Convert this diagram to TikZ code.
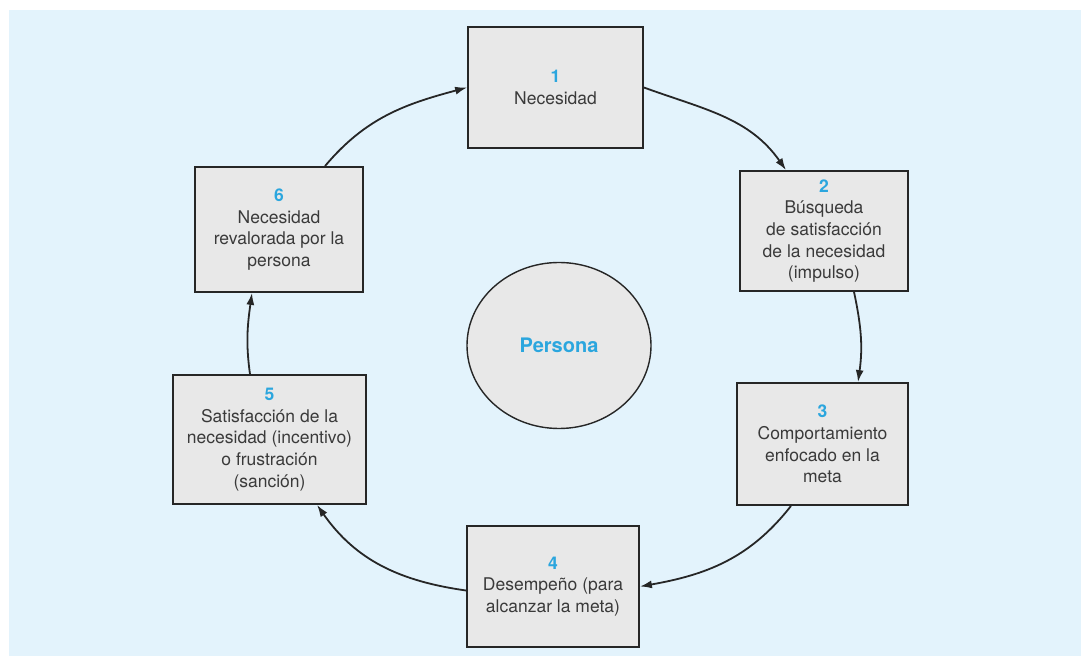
\documentclass[tikz,border=0pt]{standalone}
\usepackage{fontspec}
\setmainfont{TeX Gyre Heros}
\usetikzlibrary{arrows.meta,shapes.geometric}
\definecolor{fondoazul}{HTML}{E3F3FC}
\definecolor{cajagris}{HTML}{E8E8E8}
\definecolor{bordeosc}{HTML}{262626}
\definecolor{textogris}{HTML}{3A3A3A}
\definecolor{azulnum}{HTML}{2BA6DE}
\newcommand{\nro}[1]{{\color{azulnum}\bfseries #1}\\}
\tikzset{
  paso/.style={draw=bordeosc, line width=1.8pt, fill=cajagris, align=center,
    inner sep=0pt, text=textogris, font=\fontsize{17.5}{21.7}\selectfont},
  flecha/.style={->, line width=1.8pt, draw=bordeosc},
}

\begin{document}
\begin{tikzpicture}[>={Latex[length=12pt,width=8pt]}, x=1pt, y=1pt]

\useasboundingbox (0,0) rectangle (1081,656);
\fill[fondoazul] (9,0) rectangle (1081,646);

% circulo central
\node[ellipse, draw=bordeosc, line width=1.4pt, fill=cajagris, minimum width=184pt,
  minimum height=166pt, inner sep=0pt, text=azulnum,
  font=\fontsize{20}{24}\selectfont\bfseries] (persona) at (559,310.5) {Persona};

% los seis pasos
\node[paso, minimum width=175pt, minimum height=121pt] (n1) at (555.5,568.5)
  {\nro{1}Necesidad};
\node[paso, minimum width=168pt, minimum height=120pt] (n2) at (824,425)
  {\nro{2}Búsqueda\\de satisfacción\\de la necesidad\\(impulso)};
\node[paso, minimum width=171pt, minimum height=122pt] (n3) at (822.5,212)
  {\nro{3}Comportamiento\\enfocado en la\\meta};
\node[paso, minimum width=172pt, minimum height=121pt] (n4) at (553,69.5)
  {\nro{4}Desempeño (para\\alcanzar la meta)};
\node[paso, minimum width=193pt, minimum height=129pt] (n5) at (269.5,216.5)
  {\nro{5}Satisfacción de la\\necesidad (incentivo)\\o frustración\\(sanción)};
\node[paso, minimum width=168pt, minimum height=125pt] (n6) at (279,426.5)
  {\nro{6}Necesidad\\revalorada por la\\persona};

% ciclo
\draw[flecha] (n1.east) to[out=-20, in=125] ([xshift=-38pt]n2.north);
\draw[flecha] ([xshift=30pt]n2.south) to[out=-78, in=82] ([xshift=35.5pt]n3.north);
\draw[flecha] ([xshift=-31.5pt]n3.south) to[out=-128, in=10] (n4.east);
\draw[flecha] ([yshift=-4pt]n4.west) to[out=172, in=-55] ([xshift=47.5pt]n5.south);
\draw[flecha] ([xshift=-19.5pt]n5.north) to[out=98, in=-98] ([xshift=-27pt]n6.south);
\draw[flecha] ([xshift=46pt]n6.north) to[out=50, in=195] (n1.west);

\end{tikzpicture}
\end{document}
